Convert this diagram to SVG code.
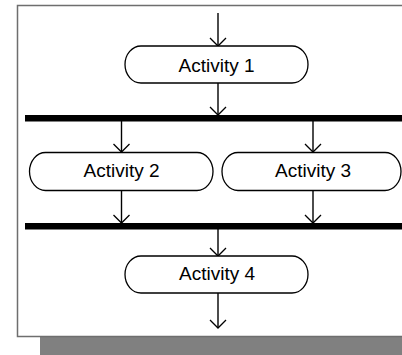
<svg xmlns="http://www.w3.org/2000/svg" width="402" height="355" viewBox="0 0 402 355">
  <style>
    .frame { fill: #ffffff; stroke: #6e6e6e; stroke-width: 1.5; }
    .shadow { fill: #808080; }
    .act { fill: #ffffff; stroke: #000000; stroke-width: 1.3; }
    .label { font-family: "Liberation Sans", Arial, sans-serif; font-size: 19px; fill: #000000; text-anchor: middle; }
    .flow { fill: none; stroke: #000000; stroke-width: 1.4; }
    .bar { fill: #000000; }
  </style>
  <defs>
    <!-- open V arrowhead, drawn along +x so orient="auto" follows the line -->
    <marker id="arrow" markerUnits="userSpaceOnUse" viewBox="-10 -10 12 20" refX="0" refY="0" markerWidth="12" markerHeight="20" orient="auto">
      <path d="M-8,-8 L0,0 L-8,8" fill="none" stroke="#000" stroke-width="1.3"/>
    </marker>
  </defs>

  <!-- page shadow and frame -->
  <rect class="shadow" x="40" y="337" width="362" height="18"/>
  <rect class="frame" x="17.5" y="5.5" width="400" height="331"/>

  <!-- synchronisation bars -->
  <g id="fork">
    <rect class="bar" x="25" y="115" width="377" height="6.5"/>
  </g>
  <g id="join">
    <rect class="bar" x="25" y="223" width="377" height="6.5"/>
  </g>

  <!-- connectors -->
  <g id="connectors">
    <path class="flow" d="M218,13 V46" marker-end="url(#arrow)"/>
    <path class="flow" d="M218,83 V115" marker-end="url(#arrow)"/>
    <path class="flow" d="M121.5,121 V152" marker-end="url(#arrow)"/>
    <path class="flow" d="M313,121 V152" marker-end="url(#arrow)"/>
    <path class="flow" d="M121.5,191 V223" marker-end="url(#arrow)"/>
    <path class="flow" d="M313,191 V223" marker-end="url(#arrow)"/>
    <path class="flow" d="M218,229 V256" marker-end="url(#arrow)"/>
    <path class="flow" d="M218,293 V328" marker-end="url(#arrow)"/>
  </g>

  <!-- activities -->
  <g id="activity1">
    <rect class="act" x="125" y="46" width="183" height="37" rx="16" ry="18.5"/>
    <text class="label" x="216.5" y="71.5">Activity  1</text>
  </g>
  <g id="activity2">
    <rect class="act" x="29.5" y="152.5" width="183.5" height="38" rx="16" ry="19"/>
    <text class="label" x="121.5" y="177">Activity 2</text>
  </g>
  <g id="activity3">
    <rect class="act" x="222" y="152.5" width="179" height="38" rx="16" ry="19"/>
    <text class="label" x="313" y="177">Activity 3</text>
  </g>
  <g id="activity4">
    <rect class="act" x="125" y="256" width="183" height="37" rx="16" ry="18.5"/>
    <text class="label" x="217" y="280">Activity  4</text>
  </g>
</svg>
